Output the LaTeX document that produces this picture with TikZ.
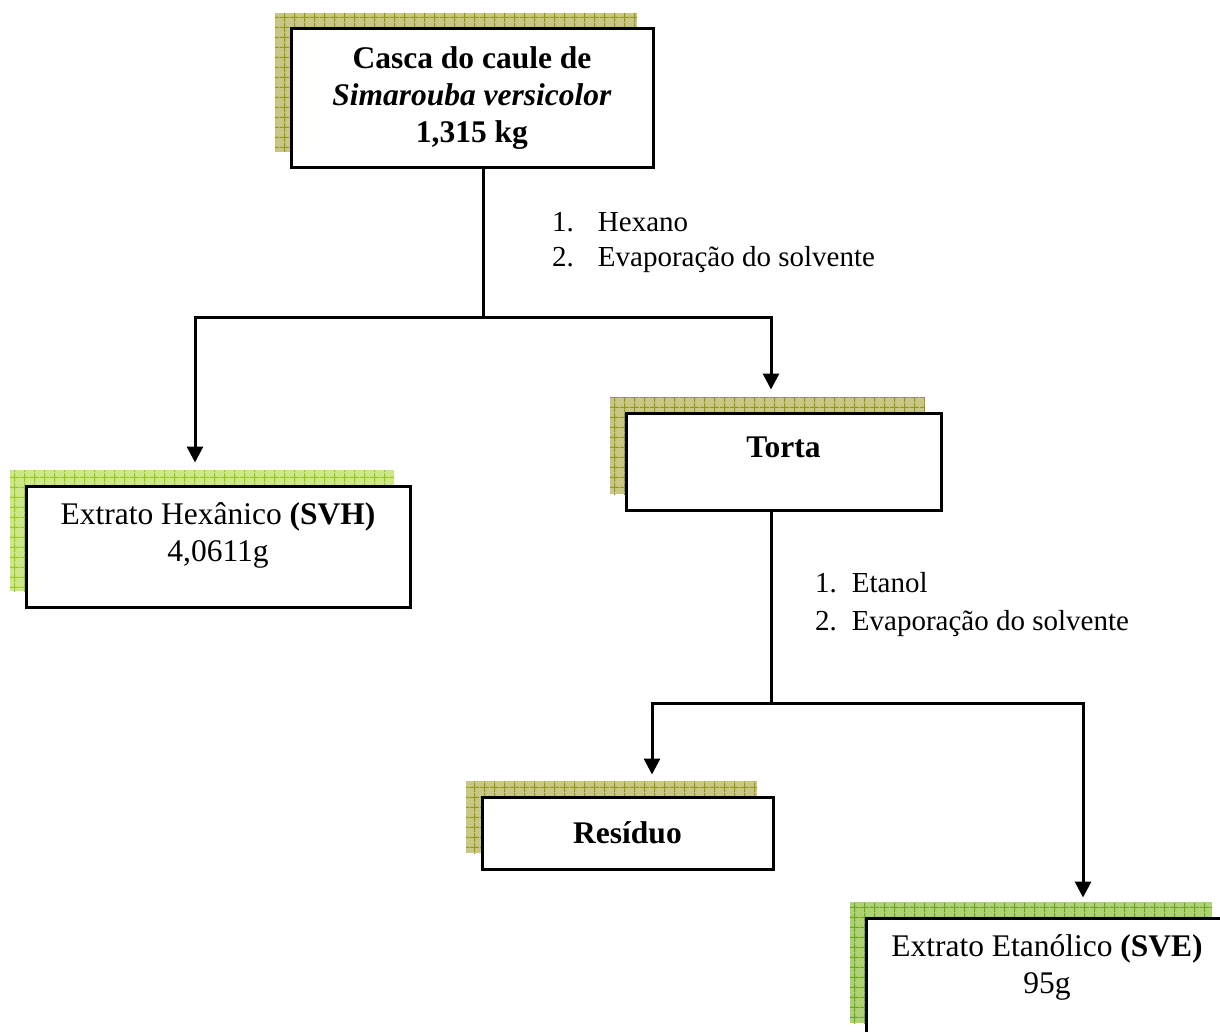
\documentclass[tikz,border=0pt]{standalone}
\usepackage{fontspec}
\setmainfont{Liberation Serif}
\usetikzlibrary{arrows.meta,patterns.meta}
\definecolor{olivefill}{RGB}{200,200,132}
\definecolor{oliveline}{RGB}{150,150,30}
\definecolor{limefill}{RGB}{206,232,136}
\definecolor{limeline}{RGB}{150,200,40}
\definecolor{leaffill}{RGB}{174,210,118}
\definecolor{leafline}{RGB}{110,165,30}
\tikzdeclarepattern{
  name=cellgrid,type=uncolored,
  bounding box={(0pt,0pt) and (10pt,10pt)},
  tile size={(10pt,10pt)},
  code={\draw[line width=1pt] (0pt,5pt) -- (10pt,5pt) (5pt,0pt) -- (5pt,10pt);}
}
\newcommand{\boxfont}{\fontsize{31.5pt}{37pt}\selectfont}
\newcommand{\stepfont}{\fontsize{29pt}{35pt}\selectfont}
\tikzset{
  procbox/.style={draw,line width=3pt,fill=white,align=center,inner sep=0pt,
    font=\boxfont},
  boldbox/.style={procbox,font=\boxfont\bfseries},
  % text sits in the upper part of the box
  toppad/.style={text depth=28pt},
  % grid shadow, shifted up and left
  hatch/.style 2 args={
    preaction={fill=#1,transform canvas={shift={(-16pt,16pt)}}},
    preaction={pattern=cellgrid,pattern color=#2,
      transform canvas={shift={(-16pt,16pt)}}}},
  link/.style={line width=3pt},
  flow/.style={link,-{Triangle[width=16pt,length=16pt]}},
  steps/.style={font=\stepfont,anchor=west,inner sep=0pt}
}
\begin{document}
\begin{tikzpicture}[x=1pt,y=-1pt]
\useasboundingbox (0,0) rectangle (1220,1032);
\clip (0,0) rectangle (1220,1032);
% ---------------- boxes ----------------
\node[boldbox,hatch={olivefill}{oliveline},minimum width=362pt,minimum height=139pt]
  (cas) at (472,98.5) {Casca do caule de\\\textit{Simarouba versicolor}\\1,315 kg};
\node[boldbox,toppad,hatch={olivefill}{oliveline},minimum width=315pt,minimum height=97pt]
  (tor) at (783.5,461.5) {Torta};
\node[procbox,toppad,hatch={limefill}{limeline},minimum width=384pt,minimum height=121pt]
  (svh) at (218,546.5) {Extrato Hexânico \textbf{(SVH)}\\4,0611g};
\node[boldbox,hatch={olivefill}{oliveline},minimum width=291pt,minimum height=72pt]
  (res) at (627.5,833) {Resíduo};
\node[procbox,toppad,hatch={leaffill}{leafline},minimum width=362pt,minimum height=121pt]
  (sve) at (1047,978.5) {Extrato Etanólico \textbf{(SVE)}\\95g};
% ---------------- steps ----------------
\node[steps] (hexsteps) at (552,242.5)
  {\begin{tabular}{@{}l@{\hspace{24pt}}l@{}}1. & Hexano\\2. & Evaporação do solvente\end{tabular}};
\node[steps,font=\fontsize{29pt}{38pt}\selectfont] (etsteps) at (815,604)
  {\begin{tabular}{@{}l@{\hspace{15pt}}l@{}}1. & Etanol\\2. & Evaporação do solvente\end{tabular}};
% ---------------- connectors ----------------
\coordinate (j1) at (483,317);
\coordinate (j2) at (771,703);
\draw[link] (cas.south -| j1) -- (j1);
\draw[flow] (j1) -| ([xshift=-23pt,yshift=22pt]svh.north);
\draw[flow] (j1) -| ([xshift=-12.5pt,yshift=22pt]tor.north);
\draw[link] (tor.south -| j2) -- (j2);
\draw[flow] (j2) -| ([xshift=24.5pt,yshift=21pt]res.north);
\draw[flow] (j2) -| ([xshift=36pt,yshift=19pt]sve.north);
\end{tikzpicture}
\end{document}
